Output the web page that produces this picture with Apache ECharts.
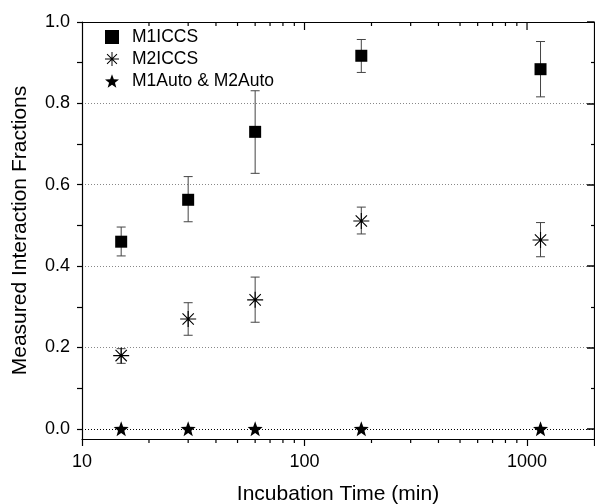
<!DOCTYPE html>
<html><head><meta charset="utf-8">
<script src="https://cdn.jsdelivr.net/npm/echarts@6/dist/echarts.min.js"></script>
<style>html,body{margin:0;padding:0;background:#fff}#c{width:595px;height:504px}</style>
</head><body><div id="c"></div>
<script>
// ---- data ----
const xTime = [15, 30, 60, 180, 1150];
const m1 = [0.460, 0.563, 0.730, 0.917, 0.884];
const m1Lo = [0.425, 0.509, 0.628, 0.876, 0.816];
const m1Hi = [0.496, 0.620, 0.831, 0.957, 0.952];
const m2 = [0.180, 0.270, 0.317, 0.511, 0.464];
const m2Lo = [0.161, 0.230, 0.262, 0.479, 0.423];
const m2Hi = [0.197, 0.310, 0.373, 0.545, 0.507];
const autoVals = [0, 0, 0, 0, 0];
const xMajorTicks = [10, 100, 1000];
const xMinorTicks = [20, 30, 40, 50, 60, 70, 80, 90, 200, 300, 400, 500, 600, 700, 800, 900];
const yMajorTicks = [0, 0.2, 0.4, 0.6, 0.8, 1.0];
const yMinorTicks = [0.1, 0.3, 0.5, 0.7, 0.9];
const seriesNames = ['M1ICCS', 'M2ICCS', 'M1Auto & M2Auto'];

const X_MIN = 10, X_MAX = 2000, Y_MIN = -0.025, Y_MAX = 1.0;
const FONT = 'Liberation Sans, Arial, sans-serif';

function starPath() {
  let d = '';
  for (let i = 0; i < 10; i++) {
    const r = i % 2 === 0 ? 1 : 0.42;
    const a = -Math.PI / 2 + i * Math.PI / 5;
    d += (i === 0 ? 'M' : 'L') + (r * Math.cos(a)).toFixed(4) + ',' + (r * Math.sin(a)).toFixed(4);
  }
  return 'path://' + d + 'Z';
}
function asteriskPath() {
  const w = 0.07;
  let d = '';
  [0, 45, 90, 135].forEach(function (deg) {
    const a = deg * Math.PI / 180, c = Math.cos(a), s = Math.sin(a);
    const pts = [[-1, -w], [1, -w], [1, w], [-1, w]].map(function (p) {
      return [p[0] * c - p[1] * s, p[0] * s + p[1] * c];
    });
    d += 'M' + pts.map(function (p) { return p[0].toFixed(4) + ',' + p[1].toFixed(4); }).join('L') + 'Z';
  });
  return 'path://' + d;
}
const STAR = starPath();
const AST = asteriskPath();

function errData(lo, hi) { return xTime.map(function (x, i) { return [x, lo[i], hi[i]]; }); }
function errRender(params, api) {
  const x = api.value(0);
  const a = api.coord([x, api.value(1)]);
  const b = api.coord([x, api.value(2)]);
  const cw = 4.5;
  const st = { stroke: '#444', lineWidth: 1 };
  return { type: 'group', children: [
    { type: 'line', shape: { x1: a[0], y1: a[1], x2: b[0], y2: b[1] }, style: st },
    { type: 'line', shape: { x1: a[0] - cw, y1: a[1], x2: a[0] + cw, y2: a[1] }, style: st },
    { type: 'line', shape: { x1: b[0] - cw, y1: b[1], x2: b[0] + cw, y2: b[1] }, style: st }
  ]};
}
function minorRender(params, api) {
  const v = api.value(0);
  const bot = api.coord([v, Y_MIN]);
  const top = api.coord([v, Y_MAX]);
  const st = { stroke: '#000', lineWidth: 1.2 };
  return { type: 'group', children: [
    { type: 'line', shape: { x1: bot[0], y1: bot[1], x2: bot[0], y2: bot[1] + 4 }, style: st },
    { type: 'line', shape: { x1: top[0], y1: top[1], x2: top[0], y2: top[1] + 4 }, style: st }
  ]};
}
function majorTopRender(params, api) {
  const v = api.value(0);
  const top = api.coord([v, Y_MAX]);
  return { type: 'line', shape: { x1: top[0], y1: top[1], x2: top[0], y2: top[1] + 8 }, style: { stroke: '#000', lineWidth: 1.2 } };
}

const axisBlack = { color: '#000', width: 1.2 };
const chart = echarts.init(document.getElementById('c'), null, { renderer: 'canvas' });
chart.setOption({
  animation: false,
  backgroundColor: '#fff',
  textStyle: { fontFamily: FONT },
  grid: { left: 82, right: 1, top: 22, bottom: 65, containLabel: false, outerBoundsMode: 'none' },
  legend: {
    orient: 'vertical', left: 100, top: 23, itemGap: 4, itemWidth: 14, itemHeight: 14,
    textStyle: { fontSize: 17.5, color: '#000', fontFamily: FONT, padding: [0, 0, 0, 8] },
    data: [
      { name: seriesNames[0], icon: 'rect', itemStyle: { color: '#000', opacity: 1 } },
      { name: seriesNames[1], icon: AST, itemStyle: { color: '#000', opacity: 1 } },
      { name: seriesNames[2], icon: STAR, itemStyle: { color: '#000', opacity: 1 } }
    ]
  },
  xAxis: [{
    type: 'log', logBase: 10, min: X_MIN, max: X_MAX, position: 'bottom',
    axisLine: { show: true, onZero: false, lineStyle: axisBlack },
    axisTick: { show: true, length: 7, lineStyle: axisBlack },
    axisLabel: { fontSize: 18, color: '#000', margin: 14, fontFamily: FONT,
      formatter: function (v) { return xMajorTicks.indexOf(Math.round(v)) >= 0 && Math.abs(v - Math.round(v)) < 1e-6 ? String(Math.round(v)) : ''; } },
    splitLine: { show: false },
    name: 'Incubation Time (min)', nameLocation: 'middle', nameGap: 45,
    nameTextStyle: { fontSize: 21, color: '#000', fontFamily: FONT }
  }, {
    type: 'log', logBase: 10, min: X_MIN, max: X_MAX, position: 'top',
    axisLine: { show: true, onZero: false, lineStyle: axisBlack },
    axisTick: { show: false }, axisLabel: { show: false }, splitLine: { show: false }
  }],
  yAxis: [{
    type: 'value', min: Y_MIN, max: Y_MAX, splitNumber: 5, position: 'left',
    axisLine: { show: true, onZero: false, lineStyle: axisBlack },
    axisTick: { show: true, length: 5, lineStyle: axisBlack, customValues: yMajorTicks },
    axisLabel: { fontSize: 18, color: '#000', margin: 12, fontFamily: FONT,
      customValues: yMajorTicks,
      formatter: function (v) { return v < 0 ? '' : v.toFixed(1); } },
    splitLine: { show: true, showMinLine: false, showMaxLine: false,
      lineStyle: { color: '#888', width: 1, type: [1, 2] } },
    name: 'Measured Interaction Fractions', nameLocation: 'middle', nameGap: 51,
    nameTextStyle: { fontSize: 21, color: '#000', fontFamily: FONT }
  }, {
    type: 'value', min: Y_MIN, max: Y_MAX, position: 'right',
    axisLine: { show: true, onZero: false, lineStyle: axisBlack },
    axisTick: { show: true, inside: true, length: 7, lineStyle: { color: '#000', width: 1.5 },
      customValues: yMajorTicks },
    axisLabel: { show: false }, splitLine: { show: false }
  }, {
    type: 'value', min: Y_MIN, max: Y_MAX, position: 'left',
    axisLine: { show: false, onZero: false },
    axisTick: { show: true, length: 5, lineStyle: axisBlack, customValues: yMinorTicks },
    axisLabel: { show: false }, splitLine: { show: false }
  }, {
    type: 'value', min: Y_MIN, max: Y_MAX, position: 'right',
    axisLine: { show: false, onZero: false },
    axisTick: { show: true, inside: true, length: 3, lineStyle: axisBlack, customValues: yMinorTicks },
    axisLabel: { show: false }, splitLine: { show: false }
  }],
  series: [
    { name: '__minorX', type: 'custom', xAxisIndex: 0, yAxisIndex: 0, silent: true, clip: false,
      renderItem: minorRender, data: xMinorTicks.map(function (v) { return [v]; }), encode: { x: 0 }, z: 1 },
    { name: '__majorTop', type: 'custom', xAxisIndex: 0, yAxisIndex: 0, silent: true, clip: false,
      renderItem: majorTopRender, data: xMajorTicks.slice(1).map(function (v) { return [v]; }), encode: { x: 0 }, z: 1 },
    { name: '__err1', type: 'custom', xAxisIndex: 0, yAxisIndex: 0, silent: true,
      renderItem: errRender, data: errData(m1Lo, m1Hi), encode: { x: 0, y: [1, 2] }, z: 2 },
    { name: '__err2', type: 'custom', xAxisIndex: 0, yAxisIndex: 0, silent: true,
      renderItem: errRender, data: errData(m2Lo, m2Hi), encode: { x: 0, y: [1, 2] }, z: 2 },
    { name: seriesNames[0], type: 'scatter', symbol: 'rect', symbolSize: 12,
      itemStyle: { color: '#000', opacity: 1 }, data: xTime.map(function (x, i) { return [x, m1[i]]; }), z: 3 },
    { name: seriesNames[1], type: 'scatter', symbol: AST, symbolSize: 16,
      itemStyle: { color: '#000', opacity: 1 }, data: xTime.map(function (x, i) { return [x, m2[i]]; }), z: 3 },
    { name: seriesNames[2], type: 'scatter', symbol: STAR, symbolSize: 15,
      itemStyle: { color: '#000', opacity: 1 }, data: xTime.map(function (x, i) { return [x, autoVals[i]]; }), z: 3,
      markLine: { silent: true, symbol: 'none', label: { show: false },
        lineStyle: { color: '#000', width: 1, type: [1, 2] }, data: [{ yAxis: 0 }], z: 1 } }
  ]
});
</script></body></html>
